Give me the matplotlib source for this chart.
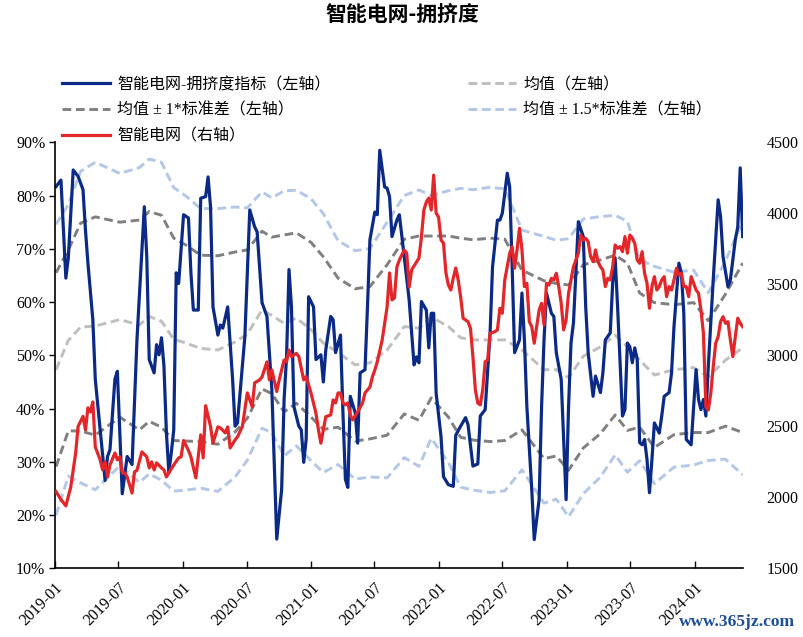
import matplotlib
matplotlib.use("Agg")
import matplotlib.pyplot as plt
import matplotlib.dates as mdates
from matplotlib.ticker import FuncFormatter, MultipleLocator
import numpy as np
import pandas as pd

plt.rcParams['font.family'] = ['Liberation Serif', 'Noto Sans CJK SC', 'DejaVu Sans']
plt.rcParams['axes.unicode_minus'] = False

# weekly data, week index counted from 2019-01-04
start_date = "2019-01-04"

blue_weeks = [0, 2, 4, 5, 7, 9, 11, 12, 13, 15, 16, 18, 20, 21, 22, 24, 25, 27, 29, 31,
              33, 36, 37, 38, 40, 41, 42, 43, 44, 45, 46, 47, 48, 49, 50, 52, 54, 55, 56, 58,
              59, 61, 62, 63, 64, 66, 67, 68, 70, 72, 73, 74, 76, 77, 79, 81, 82, 84, 86, 88,
              90, 92, 93, 94, 95, 96, 97, 99, 100, 101, 102, 103, 105, 106, 108, 109, 110, 112, 113, 114,
              116, 117, 118, 119, 120, 122, 123, 124, 126, 127, 128, 130, 131, 132, 134, 135, 136, 137, 139, 140,
              142, 144, 146, 147, 148, 149, 151, 152, 153, 154, 155, 157, 158, 160, 162, 163, 165, 167, 168, 170,
              172, 173, 175, 177, 178, 180, 181, 182, 184, 185, 186, 187, 189, 190, 191, 192, 194, 195, 197, 198,
              199, 200, 202, 203, 204, 205, 206, 208, 209, 210, 211, 212, 213, 215, 216, 217, 219, 220, 222, 223,
              224, 226, 227, 228, 229, 231, 232, 233, 234, 235, 236, 237, 238, 239, 240, 241, 242, 243, 244, 246,
              247, 248, 250, 251, 252, 254, 255, 256, 257, 259, 260, 261, 262, 263, 264, 265, 266, 268, 270, 271,
              272, 274, 275, 277, 278, 279, 280]
blue_vals = [81.7, 82.9, 64.5, 68.3, 84.8, 83.6, 81.1, 73.5, 67.3, 56.7, 45.5, 36, 26.5, 31, 32.3, 45.5, 47, 24, 31, 29.5,
             53, 77.9, 68.5, 49.2, 46.7, 52, 50.1, 53.3, 48, 35.5, 28, 31.7, 36, 65.5, 63.5, 76.4, 75.8, 65.5, 58.5, 58.5,
             79.5, 79.8, 83.5, 77.9, 59.1, 53.8, 55.7, 55.1, 59.1, 45.5, 36.7, 37.3, 48, 53.5, 77.3, 74.1, 73.2, 59.9, 57.3, 43.6,
             15.5, 24.8, 41.7, 49.7, 66.1, 59.1, 40.4, 36.7, 36, 29.9, 34.2, 61, 59.1, 49.2, 50.1, 45, 51, 57.3, 56.7, 50.5,
             53.8, 39.2, 26.7, 25.2, 42.3, 39.2, 33.5, 46.7, 47.3, 59.1, 71.7, 76.9, 76.4, 88.5, 81.6, 81.4, 79.8, 72.3, 75.4, 76.4,
             68.5, 60.4, 48.2, 49.7, 48.6, 60.1, 58.5, 51.4, 57.9, 57.9, 42.9, 34.7, 27.2, 25.7, 25.4, 35, 36.7, 38.3, 37, 29.2,
             29.6, 38.6, 39.8, 54.2, 66.6, 75.4, 75.4, 76.7, 84.2, 81.6, 66.6, 50.5, 52.9, 61.7, 52.9, 40.4, 24.8, 15.4, 22.9, 40.4,
             52.9, 61.7, 57.9, 57.3, 50.5, 48, 45.5, 22.9, 40.4, 52.3, 56.1, 65.5, 75.1, 72.3, 59.1, 50.5, 42.3, 46.1, 43, 46.7,
             52.9, 54.2, 63.6, 68.3, 59.1, 38.6, 39.8, 52.3, 51.6, 48.6, 51.4, 49.2, 33.6, 33.2, 34.2, 30.4, 24.2, 30.4, 37.3, 35.4,
             38.6, 42.3, 43, 46.7, 55.4, 67.3, 65.5, 57.9, 34.2, 33.2, 40.4, 47.3, 41.7, 39.8, 41.7, 38.6, 48, 64.2, 79.2, 76,
             68.5, 62.9, 64.2, 71.7, 74.1, 85.2, 72.3]

red_weeks = [0, 2, 4, 6, 8, 9, 11, 12, 13, 14, 15, 16, 18, 19, 20, 21, 22, 24, 25, 26,
             27, 28, 29, 31, 32, 33, 35, 37, 38, 39, 40, 41, 43, 44, 45, 46, 48, 50, 51, 52,
             54, 55, 57, 59, 60, 61, 63, 64, 66, 67, 69, 70, 71, 73, 74, 76, 78, 80, 81, 83,
             84, 86, 87, 88, 90, 91, 93, 94, 95, 96, 98, 99, 101, 102, 104, 106, 107, 108, 110, 112,
             113, 114, 115, 116, 117, 118, 119, 120, 121, 123, 125, 126, 128, 129, 130, 131, 133, 135, 136, 137,
             138, 139, 140, 141, 142, 143, 144, 145, 147, 148, 149, 150, 151, 152, 153, 154, 155, 156, 157, 158,
             159, 160, 161, 162, 163, 164, 165, 166, 168, 169, 170, 171, 172, 173, 174, 175, 176, 177, 179, 180,
             181, 182, 183, 185, 186, 187, 188, 189, 190, 191, 192, 193, 194, 195, 196, 197, 198, 199, 200, 201,
             202, 203, 204, 205, 206, 207, 208, 209, 210, 211, 213, 214, 215, 216, 217, 218, 219, 220, 221, 222,
             223, 224, 225, 226, 227, 228, 229, 230, 231, 232, 233, 234, 235, 236, 237, 238, 239, 240, 241, 242,
             243, 244, 245, 246, 247, 248, 249, 250, 251, 252, 253, 254, 255, 256, 257, 258, 259, 260, 261, 262,
             263, 264, 265, 266, 267, 268, 269, 270, 271, 272, 273, 274, 275, 276, 277, 278, 279, 280]
red_vals = [2040, 1985, 1940, 2073, 2312, 2500, 2570, 2475, 2630, 2602, 2672, 2355, 2264, 2193, 2250, 2144, 2228, 2312, 2264, 2285,
            2172, 2172, 2144, 2030, 2179, 2190, 2320, 2285, 2207, 2250, 2193, 2243, 2207, 2193, 2144, 2172, 2228, 2278, 2285, 2400,
            2330, 2285, 2137, 2440, 2278, 2645, 2500, 2383, 2496, 2489, 2454, 2496, 2348, 2404, 2426, 2500, 2735, 2637, 2806, 2827,
            2848, 2954, 2827, 2897, 2745, 2827, 2967, 2955, 3037, 2991, 3014, 2991, 2827, 2850, 2733, 2592, 2475, 2381, 2568, 2580,
            2686, 2665, 2735, 2735, 2665, 2651, 2665, 2580, 2545, 2602, 2665, 2735, 2777, 2848, 2897, 2954, 3108, 3340, 3580, 3390,
            3404, 3622, 3671, 3706, 3742, 3720, 3481, 3601, 3657, 3685, 3833, 4023, 4079, 4107, 4023, 4269, 4001, 3973, 3812, 3790,
            3580, 3495, 3460, 3545, 3615, 3531, 3411, 3261, 3237, 3190, 2991, 2756, 2663, 2651, 2756, 2955, 2967, 3155, 3167, 3179,
            3331, 3296, 3531, 3719, 3765, 3613, 3742, 3895, 3742, 3484, 3507, 3237, 3202, 3085, 3202, 3319, 3366, 3214, 3507, 3495,
            3542, 3531, 3578, 3484, 3366, 3179, 3249, 3437, 3531, 3624, 3719, 3847, 3812, 3824, 3800, 3695, 3660, 3742, 3660, 3624,
            3601, 3484, 3542, 3531, 3624, 3777, 3754, 3765, 3730, 3836, 3719, 3847, 3824, 3789, 3671, 3648, 3730, 3578, 3507, 3331,
            3484, 3554, 3460, 3484, 3531, 3554, 3413, 3484, 3460, 3531, 3613, 3566, 3578, 3484, 3484, 3413, 3554, 3507, 3460, 3437,
            3319, 3155, 2639, 2615, 2733, 2920, 3085, 3131, 3237, 3272, 3226, 3237, 3108, 2991, 3131, 3261, 3226, 3202]

# rolling mean and standard deviation of the index (percent)
band_weeks = [0, 5, 10, 16, 26, 34, 38, 43, 48, 53, 59, 66, 73, 78, 84, 88, 93, 98, 104, 109,
              115, 122, 128, 135, 142, 148, 153, 160, 165, 170, 177, 183, 190, 199, 204, 209, 215, 222, 228, 233,
              238, 244, 252, 260, 266, 273, 280]
mean_vals = [47.3, 52.8, 55.3, 55.5, 56.7, 55.7, 57.3, 56.4, 53, 52.3, 51.3, 51, 52.5, 54, 58.5, 57.5, 56, 57, 54.8, 52.3,
             50.5, 48.2, 48.6, 51, 55.4, 55.1, 57.2, 55.4, 53.3, 52.9, 52.9, 52.9, 51, 47.3, 47.3, 45.8, 49.8, 51.6, 53.8, 51.6,
             49.1, 46.3, 47.3, 47.7, 46, 49.1, 51.4]
std_vals = [18.2, 17, 19.5, 20.5, 18.3, 19.7, 19.7, 19.9, 19, 18.4, 17.5, 17.7, 16.9, 15.8, 14.8, 14.7, 16.6, 16, 16.4, 16.2,
            14, 14.3, 14.3, 16, 16.4, 17.3, 15.2, 17, 18.7, 18.8, 19.1, 18.9, 15, 16.7, 16.2, 17.4, 17.2, 16.3, 15, 15.7,
            12.6, 13.6, 12.2, 12.2, 10.5, 12.4, 15.9]

start = pd.Timestamp(start_date)
blue_dates = start + pd.to_timedelta(np.array(blue_weeks) * 7, unit="D")
red_dates = start + pd.to_timedelta(np.array(red_weeks) * 7, unit="D")
band_dates = start + pd.to_timedelta(np.array(band_weeks) * 7, unit="D")
mean_arr = np.array(mean_vals)
std_arr = np.array(std_vals)

navy = "#0b2a85"
red = "#e3262a"

fig = plt.figure(figsize=(8.04, 6.37), dpi=100)
ax = fig.add_axes([0.0684, 0.1078, 0.8553, 0.6688])
ax2 = ax.twinx()

dash = (3, 1.6)
l_up15, = ax.plot(band_dates, mean_arr + 1.5 * std_arr, color="#b4c7e7", lw=2.1, dashes=dash)
ax.plot(band_dates, mean_arr - 1.5 * std_arr, color="#b4c7e7", lw=2.1, dashes=dash)
l_mean, = ax.plot(band_dates, mean_arr, color="#bfbfbf", lw=2.1, dashes=dash)
l_up1, = ax.plot(band_dates, mean_arr + std_arr, color="#808080", lw=2.1, dashes=dash)
ax.plot(band_dates, mean_arr - std_arr, color="#808080", lw=2.1, dashes=dash)
l_blue, = ax.plot(blue_dates, blue_vals, color=navy, lw=2.3)
l_red, = ax2.plot(red_dates, red_vals, color=red, lw=2.3)

ax.set_ylim(10, 90)
ax.yaxis.set_major_locator(MultipleLocator(10))
ax.yaxis.set_major_formatter(FuncFormatter(lambda v, p: "%d%%" % v))
ax2.set_ylim(1500, 4500)
ax2.yaxis.set_major_locator(MultipleLocator(500))

ax.set_xlim(pd.Timestamp("2019-01-01"), blue_dates[-1])
ticks = pd.date_range("2019-01-01", "2024-01-01", freq="6MS")
ax.set_xticks(ticks)
ax.xaxis.set_major_formatter(mdates.DateFormatter("%Y-%m"))
for lab in ax.get_xticklabels():
    lab.set_rotation(45)
    lab.set_ha("right")
    lab.set_va("top")
    lab.set_rotation_mode("anchor")

for a in (ax, ax2):
    a.spines["top"].set_visible(False)
    a.spines["right"].set_visible(False)
ax2.spines["left"].set_visible(False)
ax2.spines["bottom"].set_visible(False)
ax.spines["left"].set_linewidth(1.2)
ax.spines["bottom"].set_linewidth(1.2)

ax.tick_params(axis="x", direction="in", length=5, width=1, labelsize=11.5, pad=8)
ax.tick_params(axis="y", direction="out", length=4, width=1, labelsize=11.5, pad=3)
ax2.tick_params(axis="y", length=0, labelsize=11.5, pad=17)

fig.text(0.5, 0.977, "智能电网-拥挤度", ha="center", va="center", fontsize=15,
         fontweight="bold", family=["Noto Sans CJK SC"])

leg_kw = dict(frameon=False, fontsize=11.5, handlelength=3.0, handletextpad=0.45,
              labelspacing=0.62, borderpad=0, borderaxespad=0, loc="upper left")
leg1 = fig.legend([l_blue, l_up1, l_red],
                  ["智能电网-拥挤度指标（左轴）", "均值 ± 1*标准差（左轴）", "智能电网（右轴）"],
                  bbox_to_anchor=(62 / 804, 1 - 77 / 637), **leg_kw)
leg2 = fig.legend([l_mean, l_up15],
                  ["均值（左轴）", "均值 ± 1.5*标准差（左轴）"],
                  bbox_to_anchor=(468 / 804, 1 - 77 / 637), **leg_kw)

fig.text(795 / 804, 1 - 622 / 637, "www.365jz.com", ha="right", va="center",
         fontsize=12.5, color="#1f4e96", fontweight="bold", family=["Liberation Serif"])

fig.savefig("out.png", dpi=100)
